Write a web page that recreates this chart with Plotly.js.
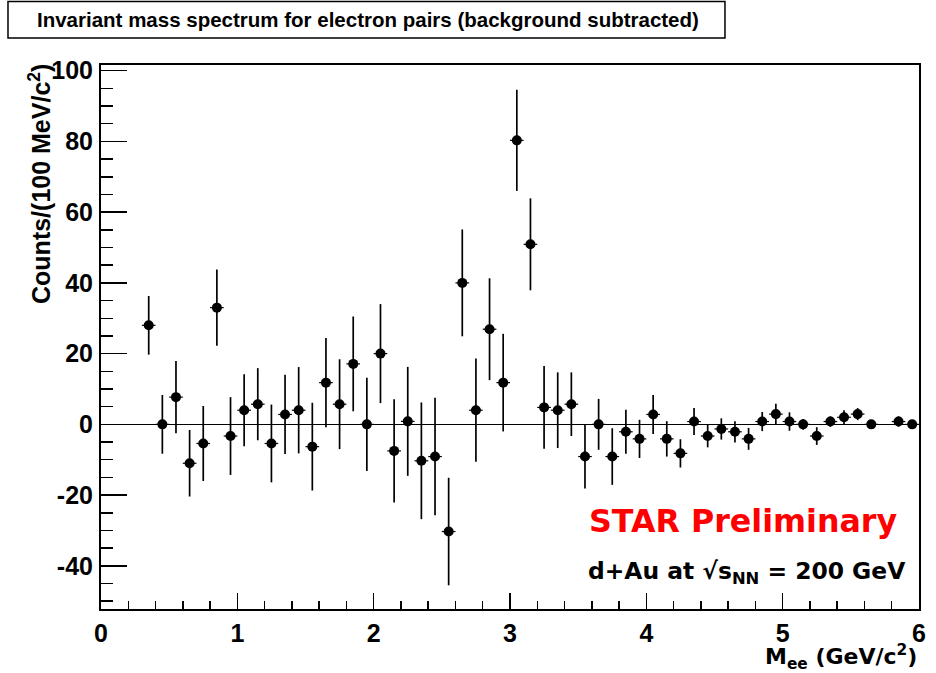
<!DOCTYPE html>
<html>
<head>
<meta charset="utf-8">
<script src="https://cdn.plot.ly/plotly-3.0.1.min.js"></script>
<style>html,body{margin:0;padding:0;background:#fff;}#chart{width:936px;height:673px;}</style>
</head>
<body>
<div id="chart"></div>
<script>
// Bin centres (GeV/c^2)
var massBins = [0.35,0.45,0.55,0.65,0.75,0.85,0.95,1.05,1.15,1.25,1.35,1.45,1.55,1.65,1.75,1.85,1.95,2.05,2.15,2.25,2.35,2.45,2.55,2.65,2.75,2.85,2.95,3.05,3.15,3.25,3.35,3.45,3.55,3.65,3.75,3.85,3.95,4.05,4.15,4.25,4.35,4.45,4.55,4.65,4.75,4.85,4.95,5.05,5.15,5.25,5.35,5.45,5.55,5.65,5.85,5.95];
// Counts per 100 MeV/c^2 (background subtracted)
var counts = [28.0,0.0,7.7,-11.0,-5.4,33.0,-3.3,4.0,5.7,-5.4,2.8,4.0,-6.3,11.8,5.7,17.1,0.0,20.0,-7.5,0.85,-10.3,-9.1,-30.3,40.0,4.0,26.9,11.8,80.3,50.9,4.8,4.0,5.7,-9.1,0.0,-9.1,-2.1,-4.1,2.8,-4.1,-8.2,0.8,-3.3,-1.3,-2.1,-4.1,0.8,2.9,0.8,0.0,-3.3,0.8,2.0,2.9,0.0,0.8,0.0];
// Statistical errors
var countErrors = [8.3,8.3,10.2,9.4,10.6,10.8,11.0,10.2,10.2,11.0,11.2,12.2,12.4,12.6,12.7,13.4,13.2,14.0,14.6,15.4,16.5,16.6,15.2,15.1,14.6,14.4,13.8,14.3,13.0,11.7,10.7,9.0,9.0,7.2,8.0,6.2,5.4,5.5,5.0,4.0,3.8,3.2,3.0,3.0,3.1,2.7,2.9,2.6,1.5,2.5,1.5,2.0,1.7,1.0,1.5,1.0];
// Half bin width
var binHalfWidth = 0.05;

var yTickVals = [-40,-20,0,20,40,60,80,100];
var yTickText = ['-40','-20','0','20','40','60','80','100'];
var xTickVals = [0,1,2,3,4,5,6];
var xTickText = ['0','1','2','3','4','5','6'];

var trace = {
  type: 'scatter',
  mode: 'markers',
  x: massBins,
  y: counts,
  marker: {color: '#000', size: 10, symbol: 'circle'},
  error_y: {type: 'data', array: countErrors, visible: true, color: '#000', thickness: 1.7, width: 0},
  error_x: {type: 'constant', value: binHalfWidth, visible: true, color: '#000', thickness: 1.2, width: 0},
  cliponaxis: true,
  hoverinfo: 'x+y'
};

var tickFont = {family: 'Liberation Sans, Arial, sans-serif', size: 25, weight: 'bold', color: '#000'};

var layout = {
  width: 936, height: 673,
  margin: {l: 101, r: 17, t: 65, b: 64},
  paper_bgcolor: '#fff', plot_bgcolor: '#fff',
  showlegend: false,
  xaxis: {
    range: [0, 6],
    tickmode: 'array', tickvals: xTickVals, ticktext: xTickText,
    ticks: 'inside', ticklen: 16, tickwidth: 1.5, tickcolor: '#000',
    minor: {ticks: 'inside', dtick: 0.2, tick0: 0, ticklen: 8, tickwidth: 1.5, tickcolor: '#000', showgrid: false},
    showline: true, linecolor: '#000', linewidth: 2, mirror: true,
    showgrid: false, zeroline: false,
    tickfont: tickFont, ticklabelstandoff: 1
  },
  yaxis: {
    range: [-52.2, 101.6],
    tickmode: 'array', tickvals: yTickVals, ticktext: yTickText,
    ticks: 'inside', ticklen: 26, tickwidth: 1.5, tickcolor: '#000',
    minor: {ticks: 'inside', dtick: 5, tick0: 0, ticklen: 12, tickwidth: 1.5, tickcolor: '#000', showgrid: false},
    showline: true, linecolor: '#000', linewidth: 2, mirror: true,
    showgrid: false, zeroline: true, zerolinecolor: '#000', zerolinewidth: 1.5,
    tickfont: tickFont, ticklabelstandoff: 1
  },
  shapes: [
    {type: 'rect', xref: 'paper', yref: 'paper', x0: -0.1137, x1: 0.7628, y0: 1.0496, y1: 1.1167,
     line: {color: '#000', width: 1.5}, fillcolor: '#fff', layer: 'above'}
  ],
  annotations: [
    {text: 'Invariant mass spectrum for electron pairs (background subtracted)', xref: 'paper', yref: 'paper',
     x: -0.0807, y: 1.0836, xanchor: 'left', yanchor: 'middle', showarrow: false,
     font: {family: 'Liberation Sans, Arial, sans-serif', size: 20.5, weight: 'bold', color: '#000'}},
    {text: 'Counts/(100 MeV/c<sup>2</sup>)', xref: 'paper', yref: 'paper',
     x: -0.0746, y: 1.0055, xanchor: 'center', yanchor: 'top', textangle: -90, showarrow: false,
     font: {family: 'Liberation Sans, Arial, sans-serif', size: 25, weight: 'bold', color: '#000'}},
    {text: 'M<sub>ee</sub> (GeV/c<sup>2</sup>)', xref: 'paper', yref: 'paper',
     x: 1.0, y: -0.088, xanchor: 'right', yanchor: 'middle', showarrow: false,
     font: {family: 'DejaVu Sans, sans-serif', size: 22, weight: 'bold', color: '#000'}},
    {text: 'STAR Preliminary', xref: 'paper', yref: 'paper',
     x: 0.5942, y: 0.1618, xanchor: 'left', yanchor: 'middle', showarrow: false,
     font: {family: 'DejaVu Sans, sans-serif', size: 31.7, weight: 'bold', color: '#ff0000'}},
    {text: 'd+Au at \u221As<sub>NN</sub> = 200 GeV', xref: 'paper', yref: 'paper',
     x: 0.593, y: 0.068, xanchor: 'left', yanchor: 'middle', showarrow: false,
     font: {family: 'DejaVu Sans, sans-serif', size: 23.4, weight: 'bold', color: '#000'}}
  ]
};

Plotly.newPlot('chart', [trace], layout, {displayModeBar: false, staticPlot: true});
</script>
</body>
</html>
